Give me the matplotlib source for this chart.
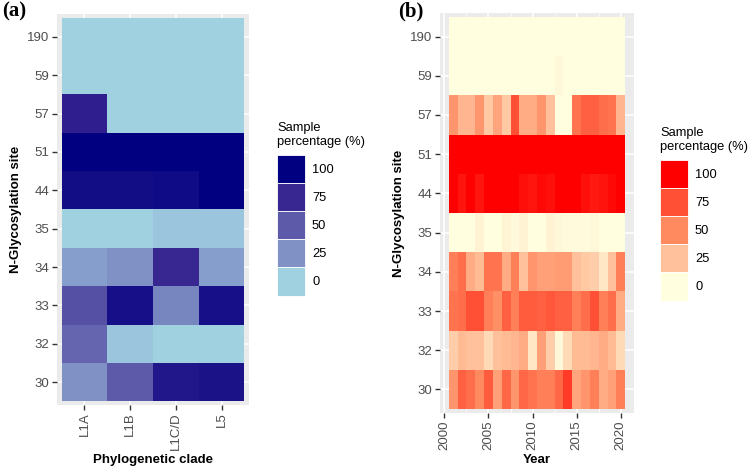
import numpy as np
import matplotlib
matplotlib.use("Agg")
import matplotlib.pyplot as plt
from matplotlib.colors import LinearSegmentedColormap
from matplotlib.patches import Patch

plt.rcParams['font.family'] = ['Liberation Sans', 'DejaVu Sans']

# sites, bottom to top
sites = ['30', '32', '33', '34', '35', '44', '51', '57', '59', '190']

# (a) sample percentage by clade
clades = ['L1A', 'L1B', 'L1C/D', 'L5']
clade_pct = [
    [25, 50, 85, 88],    # 30
    [45, 5, 0, 0],       # 32
    [55, 90, 30, 90],    # 33
    [20, 25, 75, 20],    # 34
    [0, 0, 5, 5],        # 35
    [92, 92, 93, 100],   # 44
    [100, 100, 100, 100],  # 51
    [80, 0, 0, 0],       # 57
    [0, 0, 0, 0],        # 59
    [0, 0, 0, 0],        # 190
]

# (b) sample percentage by year
years = list(range(2001, 2021))
year_pct = [
    # 30
    [45, 68, 62, 50, 70, 40, 65, 45, 65, 60, 55, 55, 65, 82, 38, 45, 55, 35, 40, 55],
    # 32
    [20, 28, 25, 25, 15, 25, 28, 30, 35, 10, 40, 20, 3, 15, 28, 28, 30, 35, 28, 15],
    # 33
    [60, 62, 75, 75, 55, 48, 68, 55, 70, 70, 68, 72, 68, 68, 55, 62, 75, 55, 62, 35],
    # 34
    [55, 62, 35, 28, 60, 60, 35, 55, 25, 45, 40, 40, 42, 42, 25, 22, 20, 10, 25, 55],
    # 35
    [0, 0, 0, 5, 0, 0, 4, 2, 5, 0, 0, 5, 3, 2, 2, 2, 3, 0, 0, 0],
    # 44
    [100, 93, 100, 93, 100, 100, 100, 100, 95, 93, 97, 95, 100, 100, 100, 95, 92, 94, 97, 100],
    # 51
    [100] * 20,
    # 57
    [45, 30, 30, 45, 22, 38, 22, 75, 35, 35, 45, 25, 0, 0, 60, 68, 68, 62, 60, 30],
    # 59
    [0, 0, 0, 0, 0, 0, 0, 0, 0, 0, 0, 0, 3, 0, 0, 0, 0, 0, 0, 0],
    # 190
    [0] * 20,
]

legend_breaks = [100, 75, 50, 25, 0]

blues = LinearSegmentedColormap.from_list(
    'blues', ['#a0d1e1', '#7f91c5', '#5d5aa9', '#392691', '#000080'])
reds = LinearSegmentedColormap.from_list(
    'reds', ['#ffffe0', '#ffc19b', '#ff8a60', '#ff5035', '#ff0000'])

fig = plt.figure(figsize=(7.5, 4.69), dpi=100)
W, H = 750, 469


def add_ax(x0, y0, x1, y1):
    return fig.add_axes([x0 / W, 1 - y1 / H, (x1 - x0) / W, (y1 - y0) / H])


def style(ax):
    ax.set_facecolor('#EBEBEB')
    for s in ax.spines.values():
        s.set_visible(False)
    ax.set_axisbelow(True)
    ax.grid(True, which='major', color='white', lw=1.1)
    ax.tick_params(which='major', length=3.5, width=1, color='#333333',
                   labelcolor='#4D4D4D', labelsize=9.5, pad=2)
    ax.tick_params(which='minor', length=0)


# ---- panel a
axa = add_ax(57, 14, 249, 405)
style(axa)
a = np.array(clade_pct, dtype=float)
xe = np.arange(len(clades) + 1) - 0.5
ye = np.arange(len(sites) + 1) - 0.5
axa.pcolormesh(xe, ye, a, cmap=blues, vmin=0, vmax=100)
axa.set_xlim(-0.6, len(clades) - 0.4)
axa.set_ylim(-0.6, len(sites) - 0.4)
axa.set_xticks(range(len(clades)))
axa.set_xticklabels(clades, rotation=90)
axa.set_yticks(range(len(sites)))
axa.set_yticklabels(sites)
axa.set_xlabel('Phylogenetic clade', fontweight='bold', fontsize=9.5, labelpad=3)
axa.set_ylabel('N-Glycosylation site', fontweight='bold', fontsize=9.5)

# ---- panel b
axb = add_ax(440, 13, 634, 413)
style(axb)
b = np.array(year_pct, dtype=float)
xe = np.arange(years[0], years[-1] + 2) - 0.5
axb.pcolormesh(xe, ye, b, cmap=reds, vmin=0, vmax=100)
axb.set_xlim(years[0] - 1.5, years[-1] + 1.5)
axb.set_ylim(-0.6, len(sites) - 0.4)
axb.set_xticks([2000, 2005, 2010, 2015, 2020])
axb.set_xticks([2002.5, 2007.5, 2012.5, 2017.5], minor=True)
axb.grid(True, which='minor', color='white', lw=0.5)
axb.tick_params(axis='x', labelrotation=90)
axb.set_yticks(range(len(sites)))
axb.set_yticklabels(sites)
axb.set_xlabel('Year', fontweight='bold', fontsize=9.5, labelpad=3)
axb.set_ylabel('N-Glycosylation site', fontweight='bold', fontsize=9.5)


def legend(cmap, x, y):
    handles = [Patch(facecolor=cmap(v / 100), edgecolor='white', lw=0.6)
               for v in legend_breaks]
    lg = fig.legend(handles, [str(v) for v in legend_breaks],
                    title='Sample\npercentage (%)', loc='upper left',
                    bbox_to_anchor=(x / W, 1 - y / H), frameon=False,
                    fontsize=9.3, title_fontsize=9.3, handlelength=2.17,
                    handleheight=2.98, labelspacing=0, handletextpad=0.54,
                    borderpad=0, borderaxespad=0, alignment='left')
    # a little room between title and keys
    lg._legend_box.sep = 5
    return lg


legend(blues, 277, 122)
legend(reds, 660, 127)

fig.text(2 / W, 1 - 1 / H, '(a)', family='Liberation Serif', fontweight='bold',
         fontsize=15, va='top', ha='left')
fig.text(398 / W, 1 - 1 / H, '(b)', family='Liberation Serif', fontweight='bold',
         fontsize=15, va='top', ha='left')

fig.savefig('out.png', dpi=100)
